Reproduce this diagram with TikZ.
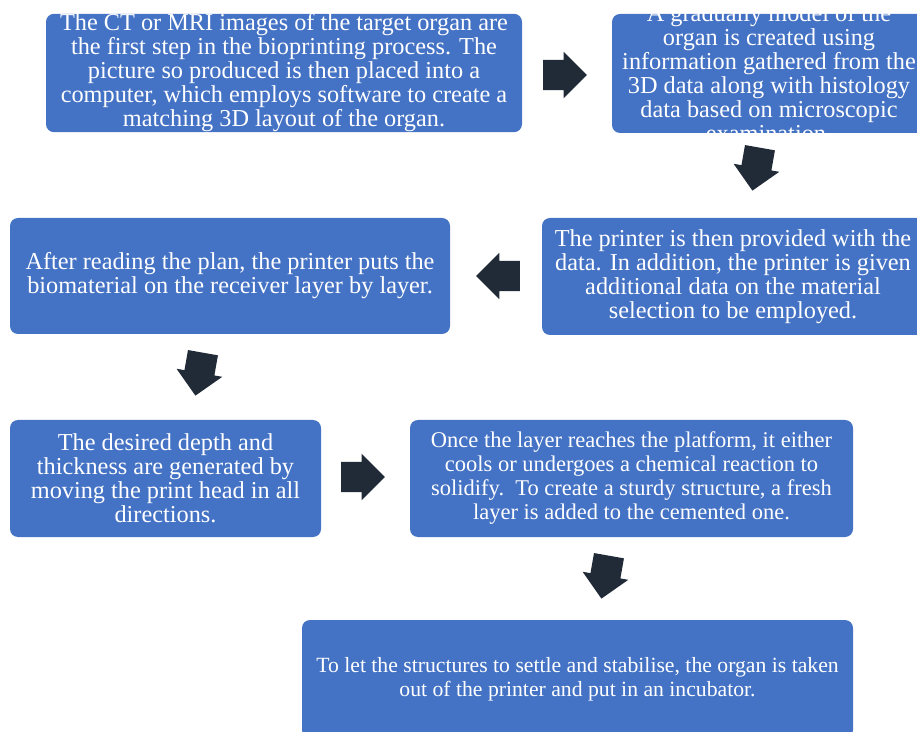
\documentclass[tikz,border=0pt]{standalone}
\usepackage{fontspec}
\setmainfont{Liberation Serif}
\usetikzlibrary{shapes.arrows,calc}
\definecolor{boxblue}{HTML}{4472C4}
\definecolor{arrowink}{HTML}{212B38}
\begin{document}
\begin{tikzpicture}[x=1pt,y=1pt,
  stepbox/.style={fill=boxblue,rounded corners=8pt,inner sep=0pt,text=white,align=center,font=\fontsize{24.3}{24}\selectfont},
  steptext/.style={inner sep=0pt,text=white,align=center,font=\fontsize{24.3}{24}\selectfont},
  blockarrow/.style={single arrow,fill=arrowink,anchor=tail,inner xsep=14pt,inner ysep=15pt,minimum size=0pt,single arrow head extend=8pt,single arrow tip angle=90}]
\useasboundingbox (0,0) rectangle (917,731);
\clip (0,0) rectangle (917,731);
% first row
\node[stepbox,minimum width=476pt,minimum height=118pt] (scan) at (284,658)
  {The CT or MRI images of the target organ are\\the first step in the bioprinting process. The\\picture so produced is then placed into a\\computer, which employs software to create a\\matching 3D layout of the organ.};
\node[stepbox,minimum width=314pt,minimum height=119pt] (model) at (769,657.5) {};
\begin{scope}
\clip (model.south west) rectangle (model.north east);
\node[steptext] (modeltext) at (model.center)
  {A gradually model of the\\organ is created using\\information gathered from the\\3D data along with histology\\data based on microscopic\\examination.};
\end{scope}
% second row
\node[stepbox,minimum width=382pt,minimum height=117pt] (feed) at (733,454.5)
  {The printer is then provided with the\\data. In addition, the printer is given\\additional data on the material\\selection to be employed.};
\node[stepbox,minimum width=440pt,minimum height=116pt] (print) at (230,455)
  {After reading the plan, the printer puts the\\biomaterial on the receiver layer by layer.};
% third row
\node[stepbox,minimum width=311pt,minimum height=117pt] (head) at (165.5,252.5)
  {The desired depth and\\thickness are generated by\\moving the print head in all\\directions.};
\node[stepbox,minimum width=443pt,minimum height=117pt,font=\fontsize{22.5}{24}\selectfont] (layer) at (631.5,252.5)
  {Once the layer reaches the platform, it either\\cools or undergoes a chemical reaction to\\solidify.\ \ To create a sturdy structure, a fresh\\layer is added to the cemented one.};
% last row
\node[stepbox,minimum width=551pt,minimum height=118pt,font=\fontsize{21.7}{24}\selectfont] (incub) at (577.5,52)
  {To let the structures to settle and stabilise, the organ is taken\\out of the printer and put in an incubator.};
% block arrows
\node[blockarrow] (arrA) at (543,656) {};
\node[blockarrow,rotate=-100] (arrB) at (760,583.5) {};
\node[blockarrow,shape border rotate=180] (arrC) at (520,455) {};
\node[blockarrow,rotate=-100] (arrD) at (203,378.5) {};
\node[blockarrow] (arrE) at (341,254) {};
\node[blockarrow,rotate=-100] (arrF) at (609,175.5) {};
\end{tikzpicture}
\end{document}
